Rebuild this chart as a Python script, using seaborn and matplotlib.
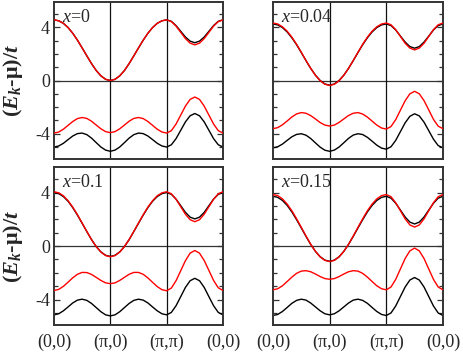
import numpy as np
import matplotlib
matplotlib.use("Agg")
import matplotlib.pyplot as plt
import seaborn as sns

# band energies (E_k - mu)/t read along (0,0)->(pi,0)->(pi,pi)->(0,0), 12 steps per segment
k_labels = ["(0,0)", "(\u03c0,0)", "(\u03c0,\u03c0)", "(0,0)"]
dopings = ["0", "0.04", "0.1", "0.15"]

upper_black_x0 = [4.56, 4.49, 4.30, 3.98, 3.55, 3.03, 2.45, 1.85, 1.27, 0.75, 0.35, 0.09, 0.00,
                  0.09, 0.35, 0.75, 1.27, 1.85, 2.45, 3.03, 3.55, 3.98, 4.30, 4.49, 4.56,
                  4.45, 4.13, 3.70, 3.27, 2.96, 2.84, 2.96, 3.27, 3.70, 4.13, 4.45, 4.56]
upper_red_x0 = [4.56, 4.49, 4.30, 3.98, 3.55, 3.03, 2.45, 1.85, 1.27, 0.75, 0.35, 0.09, 0.00,
                0.09, 0.35, 0.75, 1.27, 1.85, 2.45, 3.03, 3.55, 3.98, 4.30, 4.49, 4.56,
                4.43, 4.09, 3.62, 3.15, 2.81, 2.68, 2.81, 3.15, 3.62, 4.09, 4.43, 4.56]
lower_black_x0 = [-5.00, -4.92, -4.72, -4.44, -4.17, -3.99, -3.95, -4.07, -4.33, -4.67, -5.00, -5.23, -5.32,
                  -5.23, -5.00, -4.67, -4.33, -4.07, -3.95, -3.99, -4.17, -4.44, -4.72, -4.92, -5.00,
                  -4.83, -4.37, -3.74, -3.11, -2.65, -2.48, -2.65, -3.11, -3.74, -4.37, -4.83, -5.00]
lower_red_x0 = [-3.95, -3.87, -3.66, -3.37, -3.08, -2.86, -2.78, -2.85, -3.06, -3.35, -3.63, -3.84, -3.92,
                -3.84, -3.63, -3.35, -3.06, -2.85, -2.78, -2.86, -3.08, -3.37, -3.66, -3.87, -3.95,
                -3.77, -3.27, -2.60, -1.92, -1.42, -1.24, -1.42, -1.92, -2.60, -3.27, -3.77, -3.95]

upper_black_x004 = [4.25, 4.18, 3.98, 3.65, 3.21, 2.69, 2.10, 1.49, 0.91, 0.40, 0.00, -0.26, -0.35,
                    -0.26, 0.00, 0.40, 0.91, 1.49, 2.10, 2.69, 3.21, 3.65, 3.98, 4.18, 4.25,
                    4.13, 3.80, 3.34, 2.89, 2.55, 2.43, 2.55, 2.89, 3.34, 3.80, 4.13, 4.25]
upper_red_x004 = [4.32, 4.25, 4.04, 3.71, 3.26, 2.72, 2.12, 1.50, 0.91, 0.39, -0.02, -0.28, -0.37,
                  -0.28, -0.02, 0.39, 0.91, 1.50, 2.12, 2.72, 3.26, 3.71, 4.04, 4.25, 4.32,
                  4.19, 3.82, 3.31, 2.80, 2.44, 2.30, 2.44, 2.80, 3.31, 3.82, 4.19, 4.32]
lower_black_x004 = [-5.06, -4.98, -4.78, -4.50, -4.23, -4.05, -4.00, -4.11, -4.36, -4.69, -5.01, -5.24, -5.32,
                    -5.23, -5.00, -4.68, -4.35, -4.10, -4.00, -4.06, -4.27, -4.56, -4.86, -5.08, -5.16,
                    -4.98, -4.50, -3.84, -3.18, -2.69, -2.50, -2.66, -3.13, -3.77, -4.41, -4.89, -5.06]
lower_red_x004 = [-3.62, -3.54, -3.33, -3.04, -2.74, -2.51, -2.41, -2.46, -2.64, -2.89, -3.16, -3.35, -3.42,
                  -3.35, -3.15, -2.89, -2.63, -2.46, -2.41, -2.52, -2.75, -3.05, -3.35, -3.57, -3.65,
                  -3.46, -2.94, -2.23, -1.52, -1.00, -0.81, -1.00, -1.51, -2.21, -2.92, -3.43, -3.62]

upper_black_x01 = [4.00, 3.92, 3.70, 3.35, 2.87, 2.31, 1.70, 1.08, 0.48, -0.04, -0.44, -0.69, -0.78,
                   -0.69, -0.44, -0.04, 0.48, 1.08, 1.70, 2.31, 2.87, 3.35, 3.70, 3.92, 4.00,
                   3.87, 3.51, 3.02, 2.52, 2.16, 2.03, 2.16, 2.52, 3.02, 3.51, 3.87, 4.00]
upper_red_x01 = [4.06, 3.98, 3.76, 3.39, 2.91, 2.34, 1.72, 1.09, 0.48, -0.04, -0.45, -0.71, -0.80,
                 -0.71, -0.45, -0.04, 0.48, 1.09, 1.72, 2.34, 2.91, 3.39, 3.76, 3.98, 4.06,
                 3.91, 3.50, 2.94, 2.38, 1.97, 1.82, 1.97, 2.38, 2.94, 3.50, 3.91, 4.06]
lower_black_x01 = [-5.14, -5.06, -4.84, -4.55, -4.25, -4.04, -3.97, -4.06, -4.29, -4.60, -4.91, -5.14, -5.22,
                   -5.14, -4.91, -4.60, -4.29, -4.06, -3.97, -4.04, -4.25, -4.55, -4.84, -5.06, -5.14,
                   -4.96, -4.46, -3.78, -3.09, -2.59, -2.41, -2.59, -3.09, -3.78, -4.46, -4.96, -5.14]
lower_red_x01 = [-3.32, -3.24, -3.01, -2.70, -2.37, -2.11, -1.97, -1.98, -2.12, -2.34, -2.57, -2.75, -2.81,
                 -2.75, -2.57, -2.34, -2.11, -1.97, -1.97, -2.11, -2.38, -2.71, -3.03, -3.26, -3.34,
                 -3.14, -2.59, -1.84, -1.09, -0.53, -0.33, -0.53, -1.08, -1.82, -2.57, -3.12, -3.32]

upper_black_x015 = [3.72, 3.64, 3.41, 3.04, 2.55, 1.97, 1.35, 0.72, 0.12, -0.40, -0.80, -1.05, -1.14,
                    -1.05, -0.80, -0.40, 0.12, 0.72, 1.35, 1.97, 2.55, 3.04, 3.41, 3.64, 3.72,
                    3.58, 3.20, 2.69, 2.17, 1.79, 1.65, 1.79, 2.17, 2.69, 3.20, 3.58, 3.72]
upper_red_x015 = [3.85, 3.77, 3.53, 3.14, 2.64, 2.04, 1.40, 0.75, 0.13, -0.40, -0.81, -1.07, -1.16,
                  -1.07, -0.81, -0.40, 0.13, 0.75, 1.40, 2.04, 2.64, 3.14, 3.53, 3.77, 3.85,
                  3.69, 3.24, 2.64, 2.03, 1.58, 1.42, 1.58, 2.03, 2.64, 3.24, 3.69, 3.85]
lower_black_x015 = [-5.19, -5.11, -4.89, -4.59, -4.28, -4.06, -3.97, -4.04, -4.26, -4.55, -4.84, -5.06, -5.14,
                    -5.06, -4.84, -4.55, -4.26, -4.04, -3.97, -4.06, -4.28, -4.59, -4.89, -5.11, -5.19,
                    -5.00, -4.48, -3.77, -3.06, -2.54, -2.35, -2.54, -3.06, -3.77, -4.48, -5.00, -5.19]
lower_red_x015 = [-3.27, -3.19, -2.97, -2.65, -2.32, -2.04, -1.87, -1.84, -1.92, -2.09, -2.28, -2.43, -2.48,
                  -2.43, -2.28, -2.09, -1.92, -1.84, -1.87, -2.04, -2.32, -2.65, -2.97, -3.19, -3.27,
                  -3.06, -2.49, -1.71, -0.93, -0.36, -0.15, -0.36, -0.93, -1.71, -2.49, -3.06, -3.27]

black_bands = [(upper_black_x0, lower_black_x0), (upper_black_x004, lower_black_x004),
               (upper_black_x01, lower_black_x01), (upper_black_x015, lower_black_x015)]
red_bands = [(upper_red_x0, lower_red_x0), (upper_red_x004, lower_red_x004),
             (upper_red_x01, lower_red_x01), (upper_red_x015, lower_red_x015)]

# path coordinate: one unit per segment of the k-path
k_path = np.linspace(0, 3, len(upper_black_x0))

sns.set_style("ticks")
plt.rcParams["font.family"] = ["Liberation Serif", "DejaVu Serif"]
plt.rcParams["mathtext.fontset"] = "custom"
plt.rcParams["mathtext.rm"] = "Liberation Serif"
plt.rcParams["mathtext.it"] = "Liberation Serif:italic"
plt.rcParams["mathtext.bf"] = "Liberation Serif:bold"
plt.rcParams["mathtext.bfit"] = "Liberation Serif:italic:bold"
plt.rcParams["axes.unicode_minus"] = False

fig = plt.figure(figsize=(4.63, 3.54), dpi=100)
positions = [[0.1166, 0.5508, 0.365, 0.4435], [0.5896, 0.5508, 0.367, 0.4435],
             [0.1166, 0.0819, 0.365, 0.446], [0.5896, 0.0819, 0.367, 0.446]]

for i, pos in enumerate(positions):
    ax = fig.add_axes(pos)
    # zero energy and the symmetry points
    ax.axhline(0, color="#333333", lw=0.9, zorder=1)
    for xv in [1, 2]:
        ax.axvline(xv, color="#111111", lw=0.9, zorder=1)
    for band in black_bands[i]:
        sns.lineplot(x=k_path, y=band, color="black", lw=1.0, ax=ax, zorder=2)
    for band in red_bands[i]:
        sns.lineplot(x=k_path, y=band, color="#ff0000", lw=1.0, ax=ax, zorder=3)
    ax.set_xlim(0, 3)
    ax.set_ylim(-5.9, 5.9)
    ax.set_xticks([0, 1, 2, 3])
    ax.set_yticks([-4, 0, 4])
    ax.set_yticks(np.arange(-5, 6), minor=True)
    ax.tick_params(axis="y", which="both", direction="in", left=True, right=True,
                   color="#333333", labelsize=13, pad=3)
    ax.tick_params(axis="y", which="major", length=4.5, width=0.9)
    ax.tick_params(axis="y", which="minor", length=3, width=0.9)
    ax.tick_params(axis="x", length=0, labelsize=13, pad=6)
    if i >= 2:
        ax.set_xticklabels(k_labels)
    else:
        ax.set_xticklabels([])
    if i % 2 == 1:
        ax.set_yticklabels([])
    ax.set_xlabel("")
    ax.set_ylabel("")
    for sp in ax.spines.values():
        sp.set_color("#333333")
        sp.set_linewidth(1.4)
    ax.text(0.045, 0.955, r"$x$=" + dopings[i], transform=ax.transAxes,
            fontsize=13, ha="left", va="top")

ylabel = "($\\mathbfit{E}_{\\mathbfit{k}}$-\u03bc)/$\\mathbfit{t}$"
for yc in [0.5508 + 0.4435 / 2, 0.0819 + 0.446 / 2]:
    fig.text(0.027, yc, ylabel, rotation=90, ha="center", va="center",
             fontsize=16, fontweight="bold")

fig.savefig("out.png", dpi=100)
